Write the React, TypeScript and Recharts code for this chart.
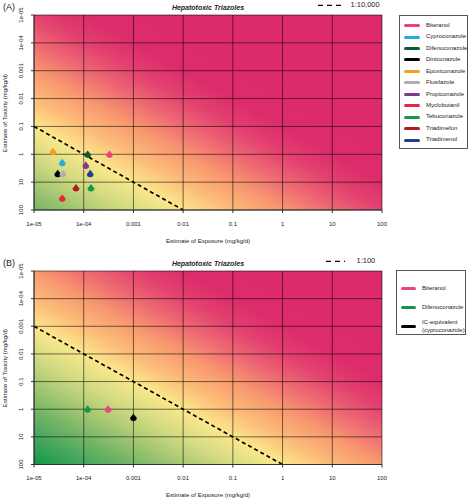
import React from 'react';
import { ComposedChart, Scatter, XAxis, YAxis, CartesianGrid, ReferenceLine } from 'recharts';

// log axes, both panels share the same ticks
const axisTicks = [1e-5, 1e-4, 1e-3, 1e-2, 1e-1, 1, 10, 100];
const axisTickLabels = ['1e-05', '1e-04', '0.001', '0.01', '0.1', '1', '10', '100'];

// panel A - all hepatotoxic triazoles
const namesA = [
  'Biteranol', 'Cyproconazole', 'Difenoconazole', 'Diniconazole', 'Epoxiconazole', 'Flusilazole',
  'Propiconazole', 'Myclobutanil', 'Tebuconazole', 'Triadimefon', 'Triadimenol',
];
const coloursA = [
  '#e8457f', '#27aae1', '#0b5c2e', '#000000', '#f89b20', '#b0aeae',
  '#7b3c8e', '#e5283b', '#13984a', '#b31b24', '#253f8e',
];
const exposureA = [3.3e-4, 3.7e-5, 1.2e-4, 3.0e-5, 2.4e-5, 3.8e-5, 1.1e-4, 3.7e-5, 1.4e-4, 7.0e-5, 1.35e-4];
const toxicityA = [1, 2, 1, 5, 0.8, 5, 2.5, 38, 16, 16, 5];
const guideXA = [1e-5, 0.01];
const guideYA = [0.1, 100];

// panel B - IC equivalent
const namesB = ['Biteranol', 'Difenoconazole', 'IC-equivalent\n(cyproconazole)'];
const coloursB = ['#e8457f', '#13984a', '#000000'];
const exposureB = [3.1e-4, 1.2e-4, 1.0e-3];
const toxicityB = [1, 1, 2];
const guideXB = [1e-5, 1];
const guideYB = [0.001, 100];

// colour ramp keyed on log10(toxicity/exposure) minus log10(ratio)
const ramp: [number, string][] = [
  [5, '#0f9948'], [4, '#43a55c'], [3, '#74b566'], [2, '#a8c874'], [1, '#d6dc83'],
  [0, '#fbe78b'], [-1, '#fcbb79'], [-2, '#f8986f'], [-3, '#ee6a73'], [-4, '#e3426f'],
  [-5, '#dd2c6c'], [-7, '#dc2a6b'],
];

const FONT = '"Liberation Sans", Arial, Helvetica, sans-serif';
const INK = '#222';

const Marker = (props: any) => {
  const { cx, cy, fill } = props;
  if (cx == null || cy == null) return null;
  const r = 3.3;
  return (
    <path
      d={`M${cx},${cy - 3.9} L${cx + r},${cy + 0.3} A${r},${r} 0 1 1 ${cx - r},${cy + 0.3} Z`}
      fill={fill}
    />
  );
};

const XTick = ({ x, y, payload }: any) => (
  <text x={x} y={y + 10.6} dy="0.35em" textAnchor="middle" fontSize={6} fill={INK} fontFamily={FONT}>
    {axisTickLabels[axisTicks.indexOf(payload.value)]}
  </text>
);

const YTick = ({ x, y, payload }: any) => (
  <text
    transform={`translate(${x - 10},${y}) rotate(-90)`}
    dy="0.35em"
    textAnchor="middle"
    fontSize={6}
    fill={INK}
    fontFamily={FONT}
  >
    {axisTickLabels[axisTicks.indexOf(payload.value)]}
  </text>
);

interface PanelProps {
  id: string;
  tag: string;
  top: number;
  plotTop: number;
  plotH: number;
  ratioLog: number;
  ratioLabel: string;
  names: string[];
  colours: string[];
  exposure: number[];
  toxicity: number[];
  guideX: number[];
  guideY: number[];
  legend: { left: number; top: number; width: number; height: number; rows: number[]; swatchW: number; textLeft: number };
}

const Panel = (p: PanelProps) => {
  const plotLeft = 34;
  const plotRight = 382;
  const cx = (plotLeft + plotRight) / 2;
  const bottomMargin = 250 - p.plotTop - p.plotH - 30;
  // gradient runs bottom-left -> top-right of the plot box, offset t <-> log ratio 7 - 14t
  const stops = ramp.map(([r, c]) => {
    const off = Math.min(1, Math.max(0, (7 - p.ratioLog - r) / 14));
    return { off, c };
  });

  return (
    <div style={{ position: 'absolute', left: 0, top: p.top, width: 471, height: 250 }}>
      <ComposedChart
        width={471}
        height={250}
        margin={{ top: p.plotTop, right: 471 - plotRight, left: 0, bottom: bottomMargin }}
      >
        <defs>
          <linearGradient id={p.id} x1="0" y1="1" x2="1" y2="0">
            {stops.map((s, i) => (
              <stop key={i} offset={s.off} stopColor={s.c} />
            ))}
          </linearGradient>
        </defs>
        <CartesianGrid fill={`url(#${p.id})`} stroke="#000" strokeOpacity={0.55} strokeWidth={1} />
        <XAxis
          dataKey="x"
          type="number"
          scale="log"
          domain={[1e-5, 100]}
          ticks={axisTicks}
          interval={0}
          allowDataOverflow
          height={30}
          tickSize={3}
          tickMargin={0}
          tick={<XTick />}
          stroke="#333"
        />
        <YAxis
          dataKey="y"
          type="number"
          scale="log"
          domain={[1e-5, 100]}
          reversed
          ticks={axisTicks}
          interval={0}
          allowDataOverflow
          width={plotLeft}
          tickSize={3}
          tickMargin={0}
          tick={<YTick />}
          stroke="#333"
        />
        <ReferenceLine
          segment={[
            { x: p.guideX[0], y: p.guideY[0] },
            { x: p.guideX[1], y: p.guideY[1] },
          ]}
          stroke="#000"
          strokeWidth={1.7}
          strokeDasharray="4 3"
        />
        {p.names.map((n, i) => (
          <Scatter
            key={n}
            name={n}
            data={[{ x: p.exposure[i], y: p.toxicity[i] }]}
            fill={p.colours[i]}
            shape={Marker}
            isAnimationActive={false}
          />
        ))}
      </ComposedChart>

      {/* panel tag, title and ratio key */}
      <div style={{ position: 'absolute', left: 3, top: p.plotTop - 15, height: 14, lineHeight: '14px', fontSize: 9, fontFamily: FONT, color: INK }}>
        {p.tag}
      </div>
      <div
        style={{
          position: 'absolute', left: cx - 60, width: 120, top: p.plotTop - 14.5, height: 14, lineHeight: '14px',
          textAlign: 'center', fontSize: 7, fontWeight: 'bold', fontStyle: 'italic', fontFamily: FONT, color: INK,
        }}
      >
        Hepatotoxic Triazoles
      </div>
      <svg style={{ position: 'absolute', left: 0, top: 0 }} width={471} height={30}>
        <line
          x1={p.ratioLabel === '1:100' ? 326 : 318}
          x2={p.ratioLabel === '1:100' ? 345 : 342}
          y1={p.plotTop - 9.7}
          y2={p.plotTop - 9.7}
          stroke="#000"
          strokeWidth={1.3}
          strokeDasharray="5 4"
        />
      </svg>
      <div
        style={{
          position: 'absolute', left: p.ratioLabel === '1:100' ? 356.5 : 350.5, top: p.plotTop - 16.7, height: 14,
          lineHeight: '14px', fontSize: 7.5, fontFamily: FONT, color: INK,
        }}
      >
        {p.ratioLabel}
      </div>

      {/* axis titles */}
      <div
        style={{
          position: 'absolute', left: cx - 80, width: 160, top: p.plotTop + p.plotH + 30.6 - 5, height: 10,
          lineHeight: '10px', textAlign: 'center', fontSize: 6, fontFamily: FONT, color: INK,
        }}
      >
        Estimate of Exposure (mg/kg/d)
      </div>
      <div
        style={{
          position: 'absolute', left: 5 - 80, width: 160, top: p.plotTop + p.plotH / 2 - 5, height: 10,
          lineHeight: '10px', textAlign: 'center', fontSize: 6, fontFamily: FONT, color: INK,
          transform: 'rotate(-90deg)',
        }}
      >
        Estimate of Toxicity (mg/kg/d)
      </div>

      {/* legend */}
      <div
        style={{
          position: 'absolute', left: p.legend.left, top: p.legend.top, width: p.legend.width, height: p.legend.height,
          border: '1px solid #555', boxSizing: 'border-box', background: '#fff',
        }}
      >
        {p.names.map((n, i) => (
          <React.Fragment key={n}>
            <div
              style={{
                position: 'absolute', left: 4, top: p.legend.rows[i] - 1.5 - 1, width: p.legend.swatchW, height: 3,
                borderRadius: 1.5, background: p.colours[i],
              }}
            />
            <div
              style={{
                position: 'absolute', left: p.legend.textLeft, top: p.legend.rows[i] - 1 - (n.includes('\n') ? 7.4 : 3.7),
                lineHeight: '7.4px', fontSize: 6, fontFamily: FONT, color: INK, whiteSpace: 'pre',
              }}
            >
              {n}
            </div>
          </React.Fragment>
        ))}
      </div>
    </div>
  );
};

const rowsA = namesA.map((_, i) => 10.7 + i * 11.43);

export default function App() {
  return (
    <div style={{ position: 'absolute', left: 0, top: 0, width: 471, height: 500, background: '#fff' }}>
      <Panel
        id="gradA"
        tag="(A)"
        top={0}
        plotTop={15}
        plotH={195}
        ratioLog={4}
        ratioLabel="1:10,000"
        names={namesA}
        colours={coloursA}
        exposure={exposureA}
        toxicity={toxicityA}
        guideX={guideXA}
        guideY={guideYA}
        legend={{ left: 399, top: 15, width: 69, height: 134, rows: rowsA, swatchW: 16, textLeft: 26 }}
      />
      <Panel
        id="gradB"
        tag="(B)"
        top={250}
        plotTop={21}
        plotH={193.5}
        ratioLog={2}
        ratioLabel="1:100"
        names={namesB}
        colours={coloursB}
        exposure={exposureB}
        toxicity={toxicityB}
        guideX={guideXB}
        guideY={guideYB}
        legend={{ left: 396, top: 20, width: 70, height: 65, rows: [18.7, 37.3, 56.7], swatchW: 15, textLeft: 25 }}
      />
    </div>
  );
}
